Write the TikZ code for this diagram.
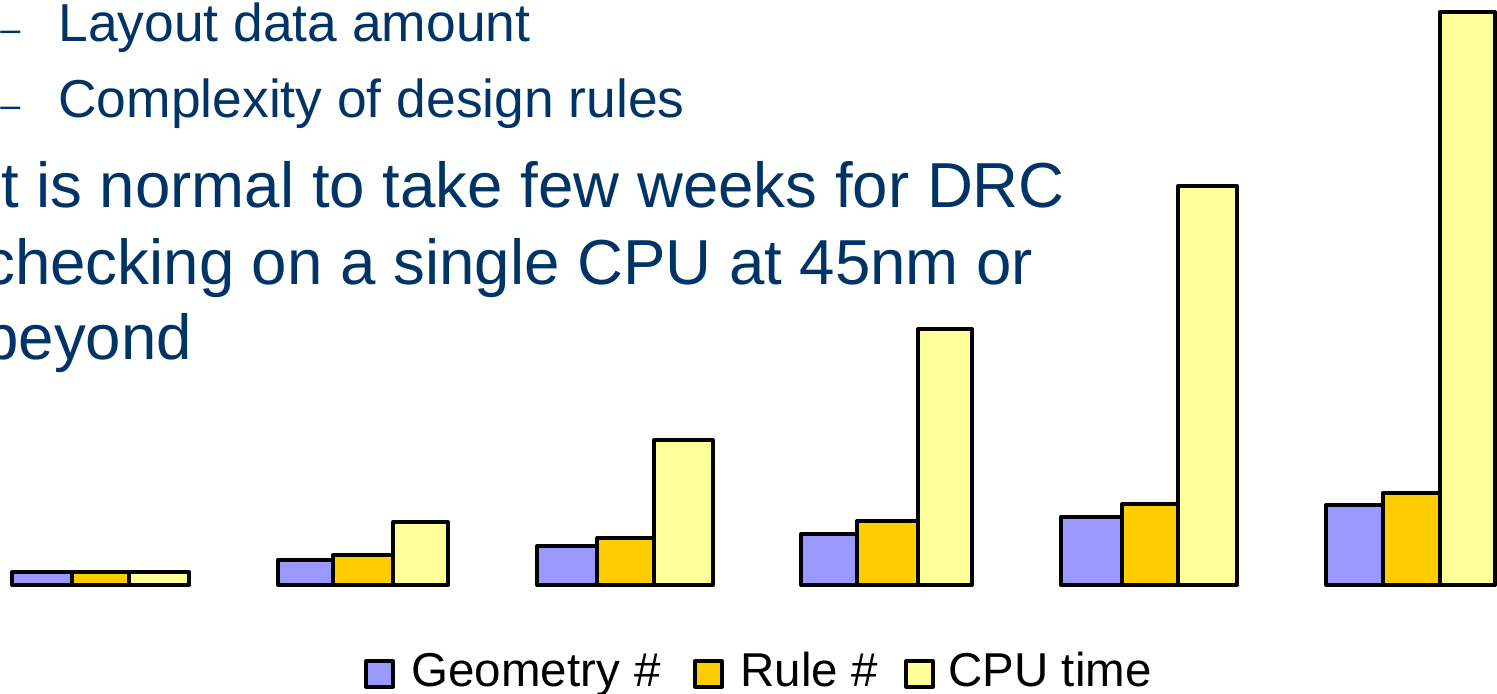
\documentclass[tikz,border=0pt]{standalone}
\usepackage{fontspec}
\setmainfont{Liberation Sans}
\definecolor{txtblue}{HTML}{003366}
\definecolor{geo}{HTML}{9999FF}
\definecolor{rule}{HTML}{FFCC00}
\definecolor{cpu}{HTML}{FFFF99}
\tikzset{
  bar/.style={draw=black, line width=2pt, line join=round},
  legbox/.style={draw=black, line width=1.6pt, line join=round},
  small/.style={inner sep=0pt, anchor=base west, text=txtblue, font=\fontsize{26.7pt}{30pt}\selectfont},
  big/.style={inner sep=0pt, anchor=base west, text=txtblue, font=\fontsize{31.8pt}{36pt}\selectfont},
  dashmark/.style={inner sep=0pt, anchor=base west, text=txtblue, font=\fontsize{18pt}{20pt}\selectfont},
  legtext/.style={inner sep=0pt, anchor=base west, text=black, font=\fontsize{23.75pt}{26pt}\selectfont}
}
\begin{document}
\begin{tikzpicture}[x=0.5pt, y=-0.5pt]
\useasboundingbox (0,0) rectangle (1497,694);
\clip (0,0) rectangle (1497,694);
% bullets
\node[dashmark] (d1) at (0,42) {–};
\node[small] (t1) at (58,42) {Layout data amount};
\node[dashmark] (d2) at (0,118) {–};
\node[small] (t2) at (58,118) {Complexity of design rules};
\node[big] (b1) at (-17,208) {It is normal to take few weeks for DRC};
\node[big] (b2) at (-17,285) {checking on a single CPU at 45nm or};
\node[big] (b3) at (-17,360) {beyond};
% bars: x0, x1, x2, x3, top geo, top rule, top cpu
\foreach \xa/\xb/\xc/\xd/\ha/\hb/\hc in {
  12/72/129/189/572/572/572,
  278/333/393/448/559.5/555/522,
  537/597/654/713/546/538/440,
  801/857/918/972/534/521/329,
  1061/1122/1178/1237/517/504/186,
  1326/1383/1440/1495/505/493/12}{
  \draw[bar, fill=geo] (\xa,585) rectangle (\xb,\ha);
  \draw[bar, fill=rule] (\xb,585) rectangle (\xc,\hb);
  \draw[bar, fill=cpu] (\xc,585) rectangle (\xd,\hc);
}
% legend
\draw[legbox, fill=geo] (366,661) rectangle (393,687);
\node[legtext] (l1) at (411,686) {Geometry\hspace{7.5pt}\#};
\draw[legbox, fill=rule] (695,661) rectangle (722,687);
\node[legtext] (l2) at (740,686) {Rule \#};
\draw[legbox, fill=cpu] (906,661) rectangle (933,687);
\node[legtext] (l3) at (948,686) {CPU time};
\end{tikzpicture}
\end{document}
